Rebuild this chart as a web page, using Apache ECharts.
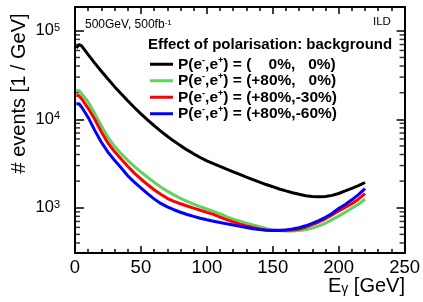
<!DOCTYPE html>
<html>
<head>
<meta charset="utf-8">
<script src="https://cdn.jsdelivr.net/npm/echarts@6/dist/echarts.min.js"></script>
<style>
    html, body { margin: 0; padding: 0; background: #fff; }
    #chart { width: 423px; height: 302px; }
</style>
</head>
<body>
<div id="chart"></div>
<script>
// photon energy bin centres [GeV]
const energy = [1, 3, 5, 10, 15, 20, 25, 30, 35, 40, 45, 50, 55, 60, 65, 70, 75, 80, 85, 90, 95, 100,
    105, 110, 115, 120, 125, 130, 135, 140, 145, 150, 155, 160, 165, 170, 175, 180, 185, 190, 195, 200,
    205, 210, 215, 220];

// events / GeV
const unpol = [64000, 70000, 67600, 53800, 43200, 34900, 28500, 23400, 19400, 16200, 13600, 11500,
    9850, 8470, 7350, 6430, 5670, 5040, 4510, 4070, 3700, 3390, 3150, 2930, 2730, 2550, 2380, 2220,
    2080, 1950, 1830, 1730, 1630, 1550, 1480, 1420, 1370, 1340, 1330, 1340, 1380, 1450, 1550, 1660,
    1780, 1930];
const pol80_0 = [21300, 21000, 19500, 15700, 11600, 8450, 6250, 4950, 4090, 3440, 2940, 2535, 2210,
    1945, 1720, 1540, 1400, 1280, 1180, 1100, 1030, 968, 912, 851, 794, 745, 705, 670, 638, 610, 582,
    562, 552, 547, 547, 552, 565, 589, 624, 668, 733, 804, 891, 989, 1096, 1250];
const pol80_30 = [18700, 18500, 17100, 13300, 10000, 7200, 5400, 4315, 3550, 2940, 2465, 2115, 1830,
    1600, 1420, 1280, 1180, 1110, 1047, 990, 938, 887, 841, 785, 735, 692, 653, 624, 597, 575, 562,
    556, 556, 556, 562, 575, 603, 645, 690, 750, 830, 920, 1010, 1110, 1250, 1445];
const pol80_60 = [15000, 15000, 13800, 10500, 7500, 5500, 4250, 3450, 2830, 2300, 1950, 1680, 1445,
    1260, 1120, 1025, 950, 890, 840, 800, 762, 731, 705, 680, 658, 637, 616, 597, 580, 566, 557, 553,
    553, 560, 575, 595, 625, 665, 715, 780, 860, 980, 1090, 1230, 1410, 1650];

const seriesNames = [
    'P(e{s|-},e{s|+}) = (    0%,   0%)',
    'P(e{s|-},e{s|+}) = (+80%,   0%)',
    'P(e{s|-},e{s|+}) = (+80%,-30%)',
    'P(e{s|-},e{s|+}) = (+80%,-60%)',
];
const seriesColors = ['#000000', '#5fd35f', '#ff0000', '#0000ff'];

// log minor ticks on the y axis
const minorY = [400, 500, 600, 700, 800, 900, 2000, 3000, 4000, 5000, 6000, 7000, 8000, 9000,
    20000, 30000, 40000, 50000, 60000, 70000, 80000, 90000];

const FONT = '"Liberation Sans", Arial, Helvetica, sans-serif';

const chart = echarts.init(document.getElementById('chart'), null, {renderer: 'canvas'});

function pairs(vals) {
    return energy.map((e, i) => [e, vals[i]]);
}

const lineSeries = [unpol, pol80_0, pol80_30, pol80_60].map((vals, i) => ({
    name: seriesNames[i],
    type: 'line',
    data: pairs(vals),
    showSymbol: false,
    symbol: 'none',
    color: seriesColors[i],
    lineStyle: {width: 3, color: seriesColors[i]},
    silent: true,
    animation: false,
}));

const tickSeries = [
    {x: 0, off: 2.5},
    {x: 250, off: -2.5},
].map((side) => ({
    type: 'scatter',
    data: minorY.map((v) => [side.x, v]),
    symbol: 'rect',
    symbolSize: [5, 1.5],
    symbolOffset: [side.off, 0],
    itemStyle: {color: '#000'},
    clip: false,
    silent: true,
    animation: false,
    legendHoverLink: false,
}));

const xAxisBase = {
    type: 'value',
    min: 0,
    max: 250,
    interval: 50,
    axisLine: {show: true, onZero: false, lineStyle: {color: '#000', width: 2}},
    axisTick: {show: true, inside: true, length: 7, lineStyle: {color: '#000', width: 1.5}},
    minorTick: {show: true, splitNumber: 5, length: 4, lineStyle: {color: '#000', width: 1.5}},
    splitLine: {show: false},
};

const yAxisBase = {
    type: 'log',
    logBase: 10,
    min: 308,
    max: 186000,
    axisLine: {show: true, onZero: false, lineStyle: {color: '#000', width: 2}},
    axisTick: {show: true, inside: true, length: 9, lineStyle: {color: '#000', width: 1.5}},
    splitLine: {show: false},
};

function powLabel(v) {
    const l = Math.log10(v);
    const e = Math.round(l);
    if (Math.abs(l - e) > 1e-6) return '';
    return '{b|10}{s|' + e + '}';
}

const option = {
    animation: false,
    grid: {left: 75, right: 16, top: 7, bottom: 49},
    xAxis: [
        Object.assign({}, xAxisBase, {
            position: 'bottom',
            axisLabel: {
                show: true, color: '#000', fontFamily: FONT, fontSize: 18.5, margin: 5,
                showMinLabel: true, showMaxLabel: true,
            },
        }),
        Object.assign({}, xAxisBase, {
            position: 'top',
            axisLabel: {show: false},
        }),
    ],
    yAxis: [
        Object.assign({}, yAxisBase, {
            position: 'left',
            axisLabel: {
                show: true,
                margin: 15,
                formatter: powLabel,
                rich: {
                    b: {fontFamily: FONT, fontSize: 16.5, lineHeight: 17, color: '#000', verticalAlign: 'bottom'},
                    s: {fontFamily: FONT, fontSize: 11, lineHeight: 11, color: '#000', verticalAlign: 'top'},
                },
            },
        }),
        Object.assign({}, yAxisBase, {
            position: 'right',
            axisLabel: {show: false},
            axisTick: {show: true, inside: true, length: 8, lineStyle: {color: '#000', width: 1.5}},
        }),
    ],
    legend: {
        data: seriesNames,
        orient: 'vertical',
        left: 150,
        top: 56,
        padding: 0,
        itemGap: 0,
        itemWidth: 23,
        itemHeight: 3,
        icon: 'rect',
        selectedMode: false,
        textStyle: {
            fontFamily: FONT,
            fontSize: 15.5,
            fontWeight: 'bold',
            color: '#000',
            lineHeight: 16.5,
            rich: {
                s: {fontFamily: FONT, fontSize: 9, fontWeight: 'bold', lineHeight: 9, verticalAlign: 'top', color: '#000'},
            },
        },
    },
    graphic: [
        {
            type: 'text',
            x: 19,
            y: 93.5,
            rotation: Math.PI / 2,
            style: {
                text: '# events [1 / GeV]',
                font: '20px ' + FONT,
                fill: '#000',
                align: 'center',
                verticalAlign: 'middle',
            },
        },
        {
            type: 'text',
            x: 405,
            y: 276,
            style: {
                text: '{n|E}{g|γ}{n| [GeV]}',
                align: 'right',
                verticalAlign: 'top',
                rich: {
                    n: {fontFamily: FONT, fontSize: 20, lineHeight: 20, verticalAlign: 'top', fill: '#000'},
                    g: {fontFamily: FONT, fontSize: 14, lineHeight: 14, padding: [10, 0, 0, 0], verticalAlign: 'bottom', fill: '#000'},
                },
            },
        },
        {
            type: 'text',
            x: 85,
            y: 24.3,
            style: {
                text: '{n|500GeV, 500fb}{s|-1}',
                align: 'left',
                verticalAlign: 'middle',
                rich: {
                    n: {fontFamily: FONT, fontSize: 12, lineHeight: 12, fill: '#000'},
                    s: {fontFamily: FONT, fontSize: 8, lineHeight: 8, verticalAlign: 'top', fill: '#000'},
                },
            },
        },
        {
            type: 'text',
            x: 373,
            y: 22.2,
            style: {
                text: 'ILD',
                font: '11.5px ' + FONT,
                fill: '#000',
                align: 'left',
                verticalAlign: 'middle',
            },
        },
        {
            type: 'text',
            x: 148,
            y: 45,
            style: {
                text: 'Effect of polarisation: background',
                font: 'bold 15px ' + FONT,
                fill: '#000',
                align: 'left',
                verticalAlign: 'middle',
            },
        },
    ],
    series: lineSeries.concat(tickSeries),
};

chart.setOption(option);
</script>
</body>
</html>
